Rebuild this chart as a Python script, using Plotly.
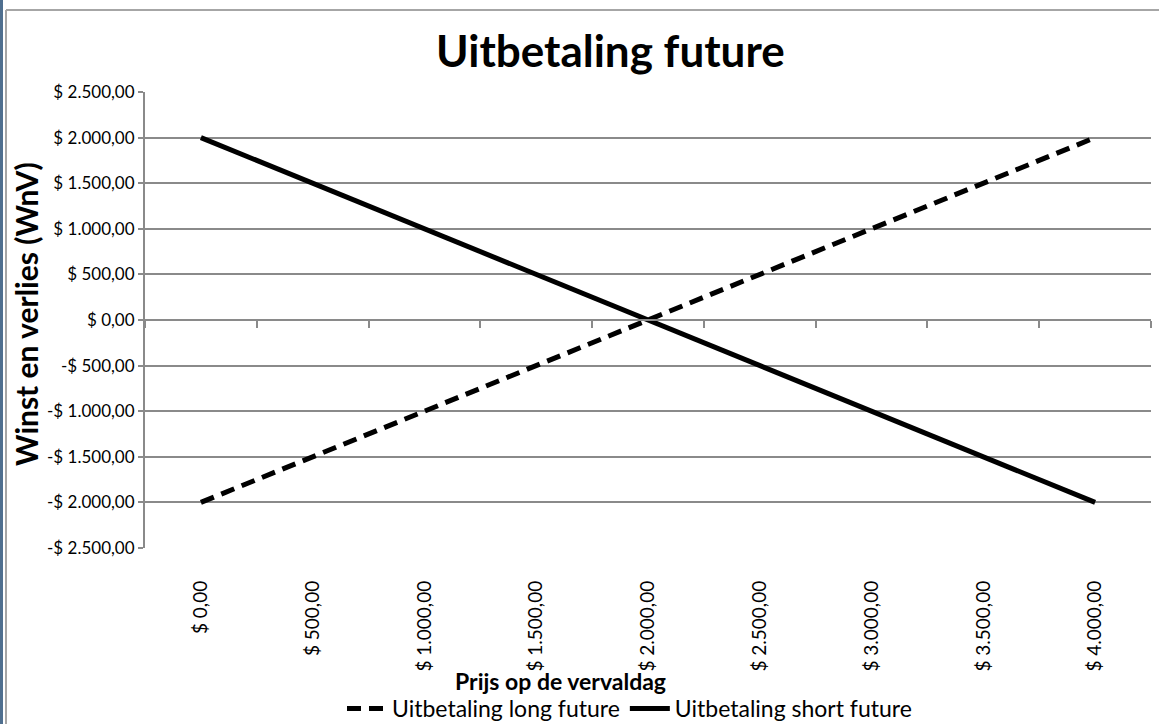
import plotly.graph_objects as go

# ---- data ----
categories = ["$ 0,00", "$ 500,00", "$ 1.000,00", "$ 1.500,00", "$ 2.000,00",
              "$ 2.500,00", "$ 3.000,00", "$ 3.500,00", "$ 4.000,00"]
long_future = [-2000, -1500, -1000, -500, 0, 500, 1000, 1500, 2000]
short_future = [2000, 1500, 1000, 500, 0, -500, -1000, -1500, -2000]
y_tick_values = [2500, 2000, 1500, 1000, 500, 0, -500, -1000, -1500, -2000, -2500]
y_tick_labels = ["$ 2.500,00", "$ 2.000,00", "$ 1.500,00", "$ 1.000,00", "$ 500,00", "$ 0,00",
                 "-$ 500,00", "-$ 1.000,00", "-$ 1.500,00", "-$ 2.000,00", "-$ 2.500,00"]
series_names = ["Uitbetaling long future", "Uitbetaling short future"]
title_text = "Uitbetaling future"
x_title = "Prijs op de vervaldag"
y_title = "Winst en verlies (WnV)"

W, H = 1159, 724
L, R, T, B = 145, 8, 92, 176
PW, PH = W - L - R, H - T - B


def px(x):
    return (x - L) / PW


def py(y):
    return (H - B - y) / PH


FONT = "Lato"
GRID = "#8a8a8a"

fig = go.Figure()
fig.add_trace(go.Scatter(x=categories, y=long_future, mode="lines", name=series_names[0],
                         line=dict(color="black", width=5, dash="14px,8px")))
fig.add_trace(go.Scatter(x=categories, y=short_future, mode="lines", name=series_names[1],
                         line=dict(color="black", width=5)))
# helper trace for the horizontal axis drawn through zero
fig.add_trace(go.Scatter(x=categories, y=[None] * len(categories), xaxis="x2",
                         showlegend=False, hoverinfo="skip", mode="lines"))

fig.update_layout(
    width=W, height=H,
    margin=dict(l=L, r=R, t=T, b=B, autoexpand=False),
    paper_bgcolor="white", plot_bgcolor="white",
    font=dict(family=FONT, color="black"),
    showlegend=True,
    legend=dict(orientation="h", x=px(342), y=py(687), xanchor="left", yanchor="top",
                font=dict(family=FONT, size=23, color="black"),
                itemwidth=40, tracegroupgap=0, bgcolor="rgba(0,0,0,0)"),
    xaxis=dict(type="category", categoryorder="array", categoryarray=categories,
               range=[-0.5, 8.5], showgrid=False, showline=False, ticks="",
               tickangle=-90, tickfont=dict(family=FONT, size=19, color="black"),
               ticklabelstandoff=28, zeroline=False, automargin=False),
    xaxis2=dict(type="category", categoryorder="array", categoryarray=categories,
                range=[-0.5, 8.5], overlaying="x", anchor="free", position=0.5,
                showgrid=False, showline=True, linecolor=GRID, linewidth=2,
                ticks="outside", tickson="boundaries", ticklen=7, tickwidth=2,
                tickcolor=GRID, showticklabels=False, zeroline=False, automargin=False),
    yaxis=dict(range=[-2500, 2500], tickvals=y_tick_values, ticktext=y_tick_labels,
               showgrid=True, gridcolor=GRID, gridwidth=2, zeroline=False,
               showline=True, linecolor=GRID, linewidth=2,
               ticks="outside", ticklen=5, tickwidth=2, tickcolor=GRID,
               tickfont=dict(family=FONT, size=17, color="black"), automargin=False),
    annotations=[
        dict(text="<b>%s</b>" % title_text, xref="paper", yref="paper", x=px(610), y=py(50),
             xanchor="center", yanchor="middle", showarrow=False,
             font=dict(family=FONT, size=44, color="black")),
        dict(text="<b>%s</b>" % x_title, xref="paper", yref="paper", x=px(560), y=py(681),
             xanchor="center", yanchor="middle", showarrow=False,
             font=dict(family=FONT, size=23, color="black")),
        dict(text="<b>%s</b>" % y_title, xref="paper", yref="paper", x=px(26), y=py(314),
             xanchor="center", yanchor="middle", showarrow=False, textangle=-90,
             font=dict(family=FONT, size=30, color="black")),
    ],
    shapes=[
        dict(type="rect", xref="paper", yref="paper", x0=px(0), x1=px(3), y0=py(0), y1=py(724),
             fillcolor="#4f6f8f", line=dict(width=0), layer="above"),
        dict(type="line", xref="paper", yref="paper", x0=px(6), x1=px(6), y0=py(10), y1=py(724),
             line=dict(color="#a6a6a6", width=2)),
        dict(type="line", xref="paper", yref="paper", x0=px(6), x1=px(1159), y0=py(10), y1=py(10),
             line=dict(color="#a6a6a6", width=2)),
    ],
)

fig.write_html("out.html", config={"displayModeBar": False},
               post_script="document.body.style.margin='0';")
